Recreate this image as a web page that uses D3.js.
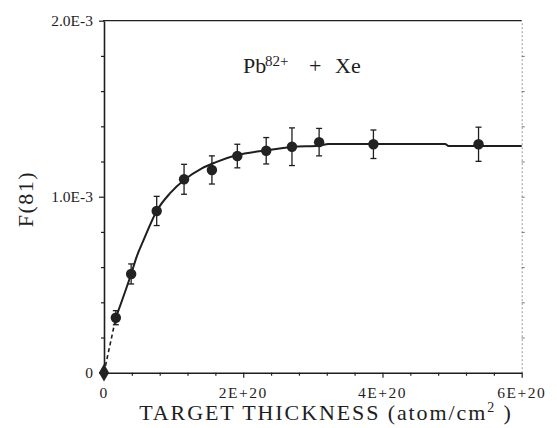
<!DOCTYPE html>
<html>
<head>
<meta charset="utf-8">
<script src="https://cdn.jsdelivr.net/npm/d3@7"></script>
<style>
  body { margin: 0; background: #fff; }
  svg text { font-family: "Liberation Serif", "Times New Roman", Times, serif; }
</style>
</head>
<body>
<div id="chart"></div>
<script>
// measured points, thickness in 1e20 atom/cm2, F(81) in 1e-3
const thickness = [0, 0.17, 0.39, 0.757, 1.15, 1.55, 1.915, 2.33, 2.70, 3.09, 3.87, 5.38];
const fraction = [0, 0.3125, 0.561, 0.919, 1.099, 1.152, 1.231, 1.261, 1.284, 1.31, 1.298, 1.298];
const errors = [0, 0.04, 0.057, 0.083, 0.085, 0.08, 0.067, 0.075, 0.107, 0.078, 0.081, 0.097];

// fitted curve
const fitX = [0.17, 0.39, 0.47, 0.565, 0.757, 0.95, 1.15, 1.40, 1.60, 1.90, 2.30, 2.70, 3.10, 3.22, 4.90, 4.95, 6.0];
const fitY = [0.3125, 0.561, 0.66, 0.75, 0.919, 1.02, 1.095, 1.16, 1.195, 1.235, 1.262, 1.283, 1.29, 1.30, 1.30, 1.288, 1.288];

const xMajor = [0, 2, 4, 6];
const xMajorLabels = ["0", "2E+20", "4E+20", "6E+20"];
const yMajor = [0, 1, 2];
const yMajorLabels = ["0", "1.0E-3", "2.0E-3"];

const width = 557;
const height = 428;
const ink = "#1e1e1e";

const x = d3.scaleLinear().domain([0, 6]).range([104, 521.7]);
const y = d3.scaleLinear().domain([0, 2]).range([372.7, 20.7]);

const svg = d3
  .select("#chart")
  .append("svg")
  .attr("width", width)
  .attr("height", height);

// minor ticks
const xMinor = d3.range(0, 6.01, 0.4).filter((v) => xMajor.indexOf(Math.round(v * 10) / 10) < 0);
const yMinor = d3.range(0.2, 2, 0.2).filter((v) => Math.abs(v - 1) > 0.01);

svg.append("g")
  .attr("transform", `translate(0,${y(0)})`)
  .call(d3.axisBottom(x).tickValues(xMinor).tickSize(3).tickFormat(""))
  .call((g) => g.select(".domain").remove());

svg.append("g")
  .attr("transform", `translate(${x(0)},0)`)
  .call(d3.axisLeft(y).tickValues(yMinor).tickSize(3).tickFormat(""))
  .call((g) => g.select(".domain").remove());

// right axis, faint and dotted
const right = svg.append("g")
  .attr("transform", `translate(${x(6)},0)`)
  .call(d3.axisRight(y).tickValues(yMinor.concat([1])).tickSize(3).tickSizeOuter(0).tickFormat(""));
right.select(".domain").attr("stroke", "#9a9a9a").attr("stroke-dasharray", "2,2");
right.selectAll(".tick line").attr("stroke", "#777");

// top frame line
svg.append("line")
  .attr("x1", x(0) - 1).attr("x2", x(6))
  .attr("y1", y(2)).attr("y2", y(2))
  .attr("stroke", ink).attr("stroke-width", 1.3);

// main axes (labels drawn separately below)
svg.append("g")
  .attr("transform", `translate(0,${y(0)})`)
  .call(d3.axisBottom(x).tickValues(xMajor).tickSize(5).tickSizeOuter(0).tickFormat(""));

svg.append("g")
  .attr("transform", `translate(${x(0)},0)`)
  .call(d3.axisLeft(y).tickValues(yMajor).tickSize(5).tickSizeOuter(0).tickFormat(""));

svg.selectAll(".domain").filter(function () { return this.parentNode !== right.node(); })
  .attr("stroke", ink).attr("stroke-width", 1.6);
svg.selectAll(".tick line").filter(function () { return this.parentNode.parentNode !== right.node(); })
  .attr("stroke", ink).attr("stroke-width", 1.2);

// tick labels
svg.append("g")
  .selectAll("text")
  .data(xMajor)
  .join("text")
  .attr("x", (d) => x(d))
  .attr("y", 398)
  .attr("text-anchor", "middle")
  .attr("fill", ink)
  .style("font-size", "15.5px")
  .style("letter-spacing", "1.5px")
  .text((d, i) => xMajorLabels[i]);

svg.append("g")
  .selectAll("text")
  .data(yMajor)
  .join("text")
  .attr("x", 93)
  .attr("y", (d) => y(d) + 5)
  .attr("text-anchor", "end")
  .attr("fill", ink)
  .style("font-size", "15.5px")
  .text((d, i) => yMajorLabels[i]);

// fitted curve: dashed from origin to first point, solid after
svg.append("path")
  .datum([[thickness[0], fraction[0]], [fitX[0], fitY[0]]])
  .attr("fill", "none")
  .attr("stroke", ink)
  .attr("stroke-width", 1.6)
  .attr("stroke-dasharray", "4,3")
  .attr("d", d3.line().x((d) => x(d[0])).y((d) => y(d[1])));

svg.append("path")
  .datum(fitX.map((v, i) => [v, fitY[i]]))
  .attr("fill", "none")
  .attr("stroke", ink)
  .attr("stroke-width", 2)
  .attr("d", d3.line().x((d) => x(d[0])).y((d) => y(d[1])).curve(d3.curveMonotoneX));

// error bars
const pts = thickness.map((v, i) => ({ x: v, y: fraction[i], e: errors[i] }));
const bars = svg.append("g").attr("stroke", ink).attr("stroke-width", 1.3);
pts.filter((d) => d.e > 0).forEach((d) => {
  bars.append("line")
    .attr("x1", x(d.x)).attr("x2", x(d.x))
    .attr("y1", y(d.y - d.e)).attr("y2", y(d.y + d.e));
  [d.y - d.e, d.y + d.e].forEach((v) => {
    bars.append("line")
      .attr("x1", x(d.x) - 3).attr("x2", x(d.x) + 3)
      .attr("y1", y(v)).attr("y2", y(v));
  });
});

// markers: diamond at origin, circles elsewhere
svg.append("g")
  .selectAll("path")
  .data(pts)
  .join("path")
  .attr("transform", (d) => `translate(${x(d.x)},${y(d.y)})`)
  .attr("d", (d, i) => d3.symbol().type(i === 0 ? d3.symbolDiamond : d3.symbolCircle).size(i === 0 ? 90 : 85)())
  .attr("fill", "#222");

// axis titles
svg.append("text")
  .attr("x", 326).attr("y", 420)
  .attr("text-anchor", "middle")
  .style("font-size", "22px")
  .style("letter-spacing", "1.9px")
  .attr("fill", ink)
  .call((t) => {
    t.append("tspan").text("TARGET THICKNESS  (atom/cm");
    t.append("tspan").attr("dy", -8).style("font-size", "14px").text("2");
    t.append("tspan").attr("dy", 8).text("  )");
  });

svg.append("text")
  .attr("transform", "translate(33,199) rotate(-90)")
  .attr("text-anchor", "middle")
  .style("font-size", "22px")
  .style("letter-spacing", "1.5px")
  .attr("fill", ink)
  .text("F(81)");

// reaction label
const label = svg.append("text").attr("y", 73).style("font-size", "22px").attr("fill", ink);
label.append("tspan").attr("x", 243).text("Pb");
label.append("tspan").attr("x", 265).attr("y", 66).style("font-size", "15px").text("82+");
label.append("tspan").attr("x", 309).attr("y", 73).text("+");
label.append("tspan").attr("x", 335).text("Xe");
</script>
</body>
</html>
